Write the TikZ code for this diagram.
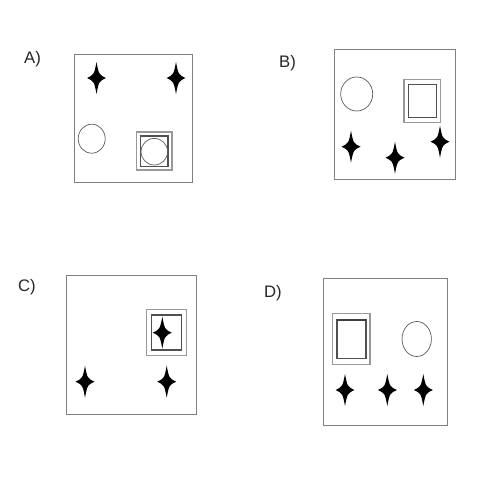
\documentclass[tikz,border=0pt]{standalone}
\usepackage{fontspec}
\setmainfont{Liberation Sans}
\usepackage{xcolor}
\definecolor{framegray}{HTML}{808080}
\definecolor{innergray}{HTML}{505050}
\definecolor{ringgray}{HTML}{5a5a5a}
\usepackage{tikz}

\begin{document}
\begin{tikzpicture}[x=0.02cm, y=-0.02cm,
  frame/.style={draw=framegray, line width=0.55pt},
  outerbox/.style={draw=framegray!80, line width=0.6pt},
  innerbox/.style={draw=innergray, line width=0.7pt},
  ring/.style={draw=ringgray, line width=0.4pt},
  tag/.style={font=\fontsize{9.5}{11}\selectfont, text=black!85, inner sep=0pt},
  spark/.pic={\fill[black] (0,-16) .. controls (2.4,-3.4) .. (9.5,0) .. controls (2.4,3.4) .. (0,16)
    .. controls (-2.4,3.4) .. (-9.5,0) .. controls (-2.4,-3.4) .. cycle;}
]
\useasboundingbox (0,0) rectangle (500,500);
% A
\node[tag] (tagA) at (32.5,59) {A)};
\draw[frame] (74,54) rectangle (192,182);
\pic at (96.5,78) {spark};
\pic at (176,78) {spark};
\draw[ring] (91.7,138.7) ellipse [x radius=13.5, y radius=14.5];
\draw[outerbox] (136.3,132) rectangle (172,170);
\draw[innerbox] (140.7,136) rectangle (168,166.7);
\draw[ring] (154.3,151.7) circle [radius=13.3];
% B
\node[tag] (tagB) at (287.5,63) {B)};
\draw[frame] (334.3,49.3) rectangle (455.7,179);
\draw[ring] (356.7,94) ellipse [x radius=16, y radius=17];
\draw[outerbox] (404,79.3) rectangle (440.7,122.7);
\draw[innerbox] (408.3,84.3) rectangle (436.7,117.3);
\pic at (351,146.7) {spark};
\pic at (395,157.7) {spark};
\pic at (440,141.7) {spark};
% C
\node[tag] (tagC) at (27,287) {C)};
\draw[frame] (66,275.7) rectangle (196.7,414);
\draw[outerbox] (146.7,309.3) rectangle (186.7,355.7);
\draw[innerbox] (151.3,315) rectangle (181.7,350);
\pic at (162.3,332.7) {spark};
\pic at (85,381.7) {spark};
\pic at (166.7,381.7) {spark};
% D
\node[tag] (tagD) at (273,293) {D)};
\draw[frame] (323.3,278.3) rectangle (447.7,425.7);
\draw[outerbox] (332.7,313.3) rectangle (370,364.3);
\draw[innerbox] (337,320) rectangle (366,358.3);
\draw[innergray!80!black, line width=1.2pt] (337,320) -- (366,320);
\draw[ring] (416.7,339) ellipse [x radius=14.7, y radius=17.5];
\pic at (345,390) {spark};
\pic at (387.3,390) {spark};
\pic at (423.3,390) {spark};
\end{tikzpicture}
\end{document}
